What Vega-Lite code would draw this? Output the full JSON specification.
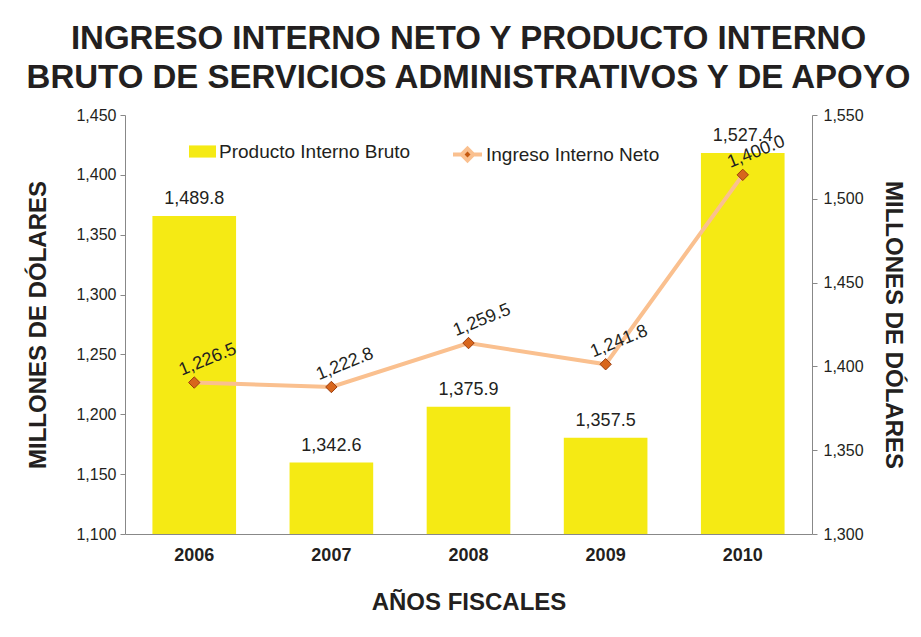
{
  "$schema": "https://vega.github.io/schema/vega-lite/v6.json",
  "width": 687,
  "height": 419,
  "padding": {"left": 24, "top": 23, "right": 10, "bottom": 10},
  "background": "white",
  "title": {
    "text": ["INGRESO INTERNO NETO Y PRODUCTO INTERNO", "BRUTO DE SERVICIOS ADMINISTRATIVOS Y DE APOYO"],
    "font": "Liberation Sans",
    "fontSize": 33,
    "fontWeight": "bold",
    "color": "#231F20",
    "anchor": "middle",
    "lineHeight": 39,
    "offset": 12
  },
  "data": {
    "values": [
      {"year": "2006", "pib": 1489.8, "ingreso": 1226.5},
      {"year": "2007", "pib": 1342.6, "ingreso": 1222.8},
      {"year": "2008", "pib": 1375.9, "ingreso": 1259.5},
      {"year": "2009", "pib": 1357.5, "ingreso": 1241.8},
      {"year": "2010", "pib": 1527.4, "ingreso": 1400.0}
    ]
  },
  "encoding": {
    "x": {
      "field": "year",
      "type": "ordinal",
      "scale": {"paddingInner": 0.39, "paddingOuter": 0.2},
      "axis": {
        "title": "AÑOS FISCALES",
        "labelAngle": 0,
        "labelFont": "Liberation Sans",
        "labelFontSize": 18,
        "labelFontWeight": "bold",
        "labelColor": "#231F20",
        "labelPadding": 12,
        "ticks": false,
        "domainColor": "#888888",
        "titleFont": "Liberation Sans",
        "titleFontSize": 24,
        "titleFontWeight": "bold",
        "titleColor": "#231F20",
        "titlePadding": 26
      }
    }
  },
  "layer": [
    {
      "encoding": {
        "y": {
          "field": "pib",
          "type": "quantitative",
          "scale": {"domain": [1300, 1550], "nice": false, "zero": false},
          "axis": {
            "orient": "right",
            "title": "MILLONES DE DÓLARES",
            "titleAngle": 90,
            "values": [1300, 1350, 1400, 1450, 1500, 1550],
            "format": ",d",
            "grid": false,
            "labelFont": "Liberation Sans",
            "labelFontSize": 16,
            "labelColor": "#231F20",
            "labelPadding": 6,
            "tickColor": "#888888",
            "tickSize": 5,
            "domainColor": "#888888",
            "titleFont": "Liberation Sans",
            "titleFontSize": 24,
            "titleFontWeight": "bold",
            "titleColor": "#231F20",
            "titlePadding": 17
          }
        }
      },
      "layer": [
        {
          "mark": {"type": "bar", "color": "#F5EA14", "clip": true},
          "encoding": {
            "fill": {
              "datum": "Producto Interno Bruto",
              "type": "nominal",
              "scale": {"range": ["#F5EA14"]},
              "legend": {
                "title": null,
                "orient": "none",
                "legendX": 64,
                "legendY": 23,
                "symbolType": "M-1,-0.45H1V0.45H-1Z",
                "symbolSize": 729,
                "symbolStrokeWidth": 0,
                "labelFont": "Liberation Sans",
                "labelFontSize": 19,
                "labelColor": "#231F20",
                "labelOffset": 3,
                "labelLimit": 300
              }
            }
          }
        },
        {
          "mark": {"type": "text", "dy": -17, "font": "Liberation Sans", "fontSize": 18, "color": "#231F20"},
          "encoding": {
            "text": {"field": "pib", "type": "quantitative", "format": ",.1f"}
          }
        }
      ]
    },
    {
      "encoding": {
        "y": {
          "field": "ingreso",
          "type": "quantitative",
          "scale": {"domain": [1100, 1450], "nice": false, "zero": false},
          "axis": {
            "orient": "left",
            "title": "MILLONES DE DÓLARES",
            "values": [1100, 1150, 1200, 1250, 1300, 1350, 1400, 1450],
            "format": ",d",
            "grid": false,
            "labelFont": "Liberation Sans",
            "labelFontSize": 16,
            "labelColor": "#231F20",
            "labelPadding": 4,
            "tickColor": "#888888",
            "tickSize": 5,
            "domainColor": "#888888",
            "titleFont": "Liberation Sans",
            "titleFontSize": 24,
            "titleFontWeight": "bold",
            "titleColor": "#231F20",
            "titlePadding": 25
          }
        }
      },
      "layer": [
        {
          "mark": {"type": "line", "color": "#FAC08F", "strokeWidth": 4},
          "encoding": {
            "stroke": {
              "datum": "Ingreso Interno Neto",
              "type": "nominal",
              "scale": {"range": ["#FAC08F"]},
              "legend": {
                "title": null,
                "orient": "none",
                "legendX": 326,
                "legendY": 23,
                "symbolType": "M-1,0H-0.4M0.4,0H1M-0.4,0L0,-0.4L0.4,0L0,0.4Z",
                "symbolSize": 841,
                "symbolStrokeWidth": 4,
                "symbolFillColor": "#C55A11",
                "labelFont": "Liberation Sans",
                "labelFontSize": 19,
                "labelColor": "#231F20",
                "labelOffset": 2,
                "labelLimit": 300
              }
            }
          }
        },
        {
          "mark": {"type": "point", "shape": "diamond", "size": 130, "filled": true, "fill": "#D8661C", "stroke": "#9C3D0E", "strokeWidth": 1, "opacity": 1}
        },
        {
          "mark": {"type": "text", "dx": 21, "dy": -16, "angle": 338, "font": "Liberation Sans", "fontSize": 18, "color": "#231F20"},
          "encoding": {
            "text": {"field": "ingreso", "type": "quantitative", "format": ",.1f"}
          }
        }
      ]
    }
  ],
  "resolve": {"scale": {"y": "independent"}},
  "config": {"view": {"stroke": null}}
}
